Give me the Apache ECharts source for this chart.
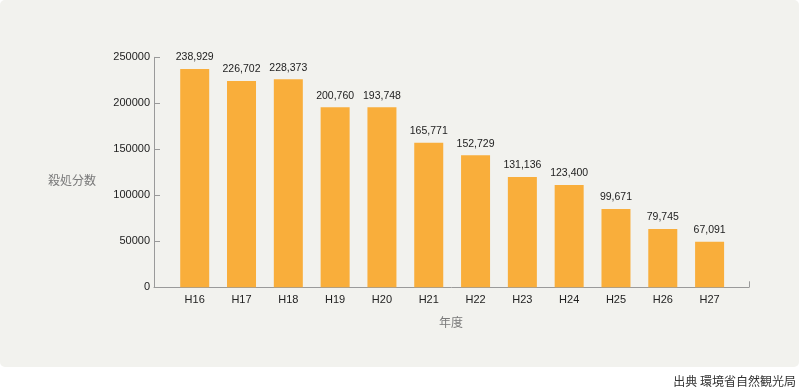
<!DOCTYPE html>
<html>
<head>
<meta charset="utf-8">
<script src="https://cdn.jsdelivr.net/npm/echarts@6/dist/echarts.min.js"></script>
<style>
html,body{margin:0;padding:0;background:#ffffff;}
#c{width:800px;height:388px;}
</style>
</head>
<body>
<div id="c"></div>
<script>
var categories = ['H16','H17','H18','H19','H20','H21','H22','H23','H24','H25','H26','H27'];
// bar heights as drawn in the picture
var barValues = [237300, 224300, 226100, 195600, 195600, 157200, 143500, 119900, 111200, 85100, 63400, 49600];
// value labels as printed above the bars
var barLabels = ['238,929','226,702','228,373','200,760','193,748','165,771','152,729','131,136','123,400','99,671','79,745','67,091'];
var yTitle = '殺処分数';
var xTitle = '年度';
var sourceText = '出典 環境省自然観光局';

var FONT = '"Liberation Sans", Arial, sans-serif';
var CJK = '"Noto Sans CJK JP", sans-serif';

var chart = echarts.init(document.getElementById('c'), null, {renderer:'canvas'});
chart.setOption({
  animation: false,
  backgroundColor: '#ffffff',
  textStyle: {fontFamily: FONT},
  graphic: [
    {type:'rect', z:-10, shape:{x:0, y:0, width:799, height:367, r:5}, style:{fill:'#f2f2ee'}},
    {type:'text', left:48, top:174, style:{text:yTitle, fill:'#7a7a7a', font:'12px ' + CJK}},
    {type:'text', left:439, top:316, style:{text:xTitle, fill:'#7a7a7a', font:'12px ' + CJK}},
    {type:'text', right:4, top:375, style:{text:sourceText, fill:'#333333', font:'12px ' + CJK}}
  ],
  grid: [
    {left:171.3, right:67, top:57.3, bottom:100.7},
    {left:154, right:51, top:57.3, bottom:100.7}
  ],
  xAxis: [
    {
      gridIndex:0, type:'category', data:categories,
      axisLine:{show:false}, axisTick:{show:false},
      axisLabel:{fontSize:11, color:'#222222', margin:7, fontFamily:FONT}
    },
    {
      gridIndex:1, type:'value', min:0, max:1, interval:1,
      axisLine:{show:true, lineStyle:{color:'#9a9a9a', width:1}},
      axisTick:{show:true, inside:true, length:6, lineStyle:{color:'#9a9a9a'}},
      axisLabel:{show:false}, splitLine:{show:false}
    }
  ],
  yAxis: [
    {
      gridIndex:0, type:'value', min:0, max:250000, interval:50000,
      show:false, splitLine:{show:false}
    },
    {
      gridIndex:1, type:'value', min:0, max:250000, interval:50000,
      axisLine:{show:true, lineStyle:{color:'#9a9a9a', width:1}},
      axisTick:{show:true, inside:true, length:6, lineStyle:{color:'#9a9a9a'}},
      axisLabel:{fontSize:11, color:'#222222', margin:4, fontFamily:FONT,
        formatter:function(v){ return String(v); }},
      splitLine:{show:false}
    }
  ],
  series: [{
    type:'bar', xAxisIndex:0, yAxisIndex:0,
    data: barValues,
    barWidth: 29,
    itemStyle:{color:'#f9ae3b'},
    label:{
      show:true, position:'top', distance:6,
      fontSize:10.5, color:'#222222', fontFamily:FONT,
      formatter:function(p){ return barLabels[p.dataIndex]; }
    }
  }]
});
</script>
</body>
</html>
